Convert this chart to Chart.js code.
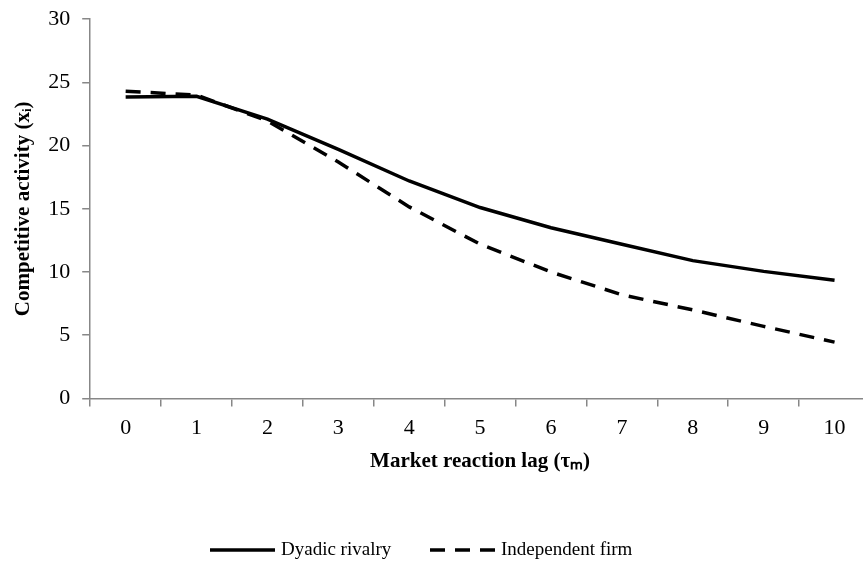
<!DOCTYPE html>
<html lang="en">
<head>
    <meta charset="UTF-8">
    <title>Competitive activity vs market reaction lag</title>
    <script src="https://cdn.jsdelivr.net/npm/chart.js"></script>
    <style>
        html, body { margin: 0; padding: 0; background: #fff; overflow: hidden; }
        /* the original plot runs a few pixels past the right edge of the picture,
           and its "30" sits closer to the top than Chart.js allows, so shift the canvas */
        #wrap { width: 870px; height: 577px; margin-top: -6px; }
    </style>
</head>
<body>
    <div id="wrap"><canvas id="lagChart"></canvas></div>

    <script>
        // values
        const lagLabels = ['0', '1', '2', '3', '4', '5', '6', '7', '8', '9', '10'];
        const dyadicRivalry = [23.85, 23.9, 22.1, 19.7, 17.2, 15.1, 13.5, 12.2, 10.9, 10.05, 9.35];
        const independentFirm = [24.3, 24.0, 21.95, 18.7, 15.15, 12.2, 10.0, 8.2, 7.0, 5.7, 4.45];
        const yTicks = [0, 5, 10, 15, 20, 25, 30];

        const serif = "'Liberation Serif', 'Times New Roman', serif";
        const axisGray = '#878787';
        const lineDash = [15, 10];

        // Excel-style legend: line samples drawn with the same dash as the series
        const bottomLegend = {
            id: 'bottomLegend',
            afterDraw(chart) {
                const ctx = chart.ctx;
                const y = 556;
                const items = [
                    { x: 210, ds: chart.data.datasets[0] },
                    { x: 430, ds: chart.data.datasets[1] }
                ];
                ctx.save();
                ctx.font = '19px ' + serif;
                ctx.fillStyle = '#000';
                ctx.textBaseline = 'middle';
                items.forEach(it => {
                    ctx.beginPath();
                    ctx.setLineDash(it.ds.borderDash || []);
                    ctx.lineWidth = it.ds.borderWidth;
                    ctx.strokeStyle = it.ds.borderColor;
                    ctx.moveTo(it.x, y);
                    ctx.lineTo(it.x + 65, y);
                    ctx.stroke();
                    ctx.fillText(it.ds.label, it.x + 71, y);
                });
                ctx.restore();
            }
        };

        new Chart(document.getElementById('lagChart'), {
            type: 'line',
            data: {
                labels: lagLabels,
                datasets: [
                    {
                        label: 'Dyadic rivalry',
                        data: dyadicRivalry,
                        borderColor: '#000',
                        backgroundColor: '#000',
                        borderWidth: 3.5,
                        pointRadius: 0,
                        tension: 0
                    },
                    {
                        label: 'Independent firm',
                        data: independentFirm,
                        borderColor: '#000',
                        backgroundColor: '#000',
                        borderWidth: 3.5,
                        borderDash: lineDash,
                        pointRadius: 0,
                        tension: 0
                    }
                ]
            },
            options: {
                responsive: true,
                maintainAspectRatio: false,
                animation: false,
                layout: { padding: 0 },
                scales: {
                    x: {
                        type: 'category',
                        offset: true,
                        grid: {
                            offset: true,
                            drawOnChartArea: false,
                            drawTicks: true,
                            tickLength: 8,
                            color: axisGray,
                            lineWidth: 1.5
                        },
                        border: { color: axisGray, width: 1.5 },
                        ticks: { color: '#000', font: { family: serif, size: 22 }, padding: 9, maxRotation: 0 },
                        title: {
                            display: true,
                            text: 'Market reaction lag (τₘ)',
                            color: '#000',
                            font: { family: serif, size: 21, weight: 'bold' },
                            padding: { top: -2, bottom: 97 }
                        }
                    },
                    y: {
                        min: 0,
                        max: 30,
                        afterBuildTicks: axis => { axis.ticks = yTicks.map(v => ({ value: v })); },
                        grid: {
                            drawOnChartArea: false,
                            drawTicks: true,
                            tickLength: 8,
                            color: axisGray,
                            lineWidth: 1.5
                        },
                        border: { color: axisGray, width: 1.5 },
                        ticks: { color: '#000', font: { family: serif, size: 22 }, padding: 12 },
                        title: {
                            display: true,
                            text: 'Competitive activity (xᵢ)',
                            color: '#000',
                            font: { family: serif, size: 21, weight: 'bold' },
                            padding: { top: 11, bottom: 0 }
                        }
                    }
                },
                plugins: {
                    legend: { display: false },
                    tooltip: { enabled: false }
                }
            },
            plugins: [bottomLegend]
        });
    </script>
</body>
</html>
